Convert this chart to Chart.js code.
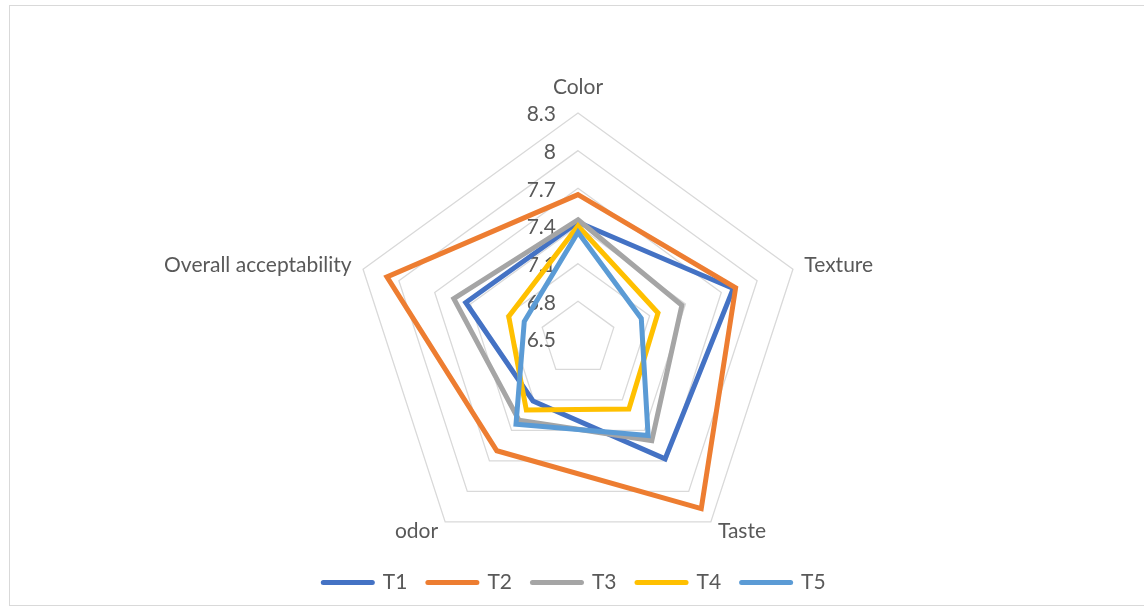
<!DOCTYPE html>
<html>
<head>
<meta charset="utf-8">
<script src="https://cdn.jsdelivr.net/npm/chart.js@4.4.1/dist/chart.umd.min.js"></script>
<style>
  html, body { margin: 0; padding: 0; background: #ffffff; }
  #wrap { position: relative; width: 1144px; height: 610px; overflow: hidden; }
  #wrap canvas { position: absolute; left: 0; top: 0; }
  #frame { position: absolute; left: 9px; top: 5px; width: 1140px; height: 601px;
           border: 1px solid #d9d9d9; box-sizing: border-box; pointer-events: none; }
</style>
</head>
<body>
<div id="wrap">
  <canvas id="chart" width="1144" height="610"></canvas>
  <div id="frame"></div>
</div>
<script>
// Sensory scores per attribute
const categories = ['Color', 'Texture', 'Taste', 'odor', 'Overall acceptability'];
const seriesNames = ['T1', 'T2', 'T3', 'T4', 'T5'];
const T1 = [7.43, 7.80, 7.68, 7.11, 7.44];
const T2 = [7.65, 7.82, 8.17, 7.60, 8.10];
const T3 = [7.45, 7.37, 7.50, 7.30, 7.54];
const T4 = [7.40, 7.17, 7.19, 7.20, 7.08];
const T5 = [7.35, 7.03, 7.45, 7.34, 6.95];
const tickValues = [6.5, 6.8, 7.1, 7.4, 7.7, 8.0, 8.3];
const tickLabels = ['6.5', '6.8', '7.1', '7.4', '7.7', '8', '8.3'];

const seriesValues = [T1, T2, T3, T4, T5];
const seriesColors = ['#4472C4', '#ED7D31', '#A5A5A5', '#FFC000', '#5B9BD5'];

const FONT = 'Lato, "Open Sans", sans-serif';
const FONT_SIZE = 21;
const TEXT_COLOR = '#595959';
const GRID_COLOR = '#d9d9d9';
const LINE_WIDTH = 5;

// Plot geometry of the radial scale
const CENTER_X = 578;
const CENTER_Y = 339;
const RADIUS = 226;

// Axis value labels sit left of the vertical axis; category labels outside each vertex
const radarText = {
  id: 'radarText',
  beforeDatasetsDraw(chart) {
    const s = chart.scales.r;
    const ctx = chart.ctx;
    ctx.save();
    ctx.font = FONT_SIZE + 'px ' + FONT;
    ctx.fillStyle = TEXT_COLOR;
    ctx.textBaseline = 'middle';
    ctx.textAlign = 'right';
    tickValues.forEach((v, i) => {
      const y = s.yCenter - s.getDistanceFromCenterForValue(v);
      ctx.fillText(tickLabels[i], s.xCenter - 22, y + 1.5);
    });
    categories.forEach((name, i) => {
      const p = s.getPointPosition(i, s.drawingArea + 12);
      const dx = p.x - s.xCenter;
      let y = p.y;
      if (Math.abs(dx) < 1) {
        ctx.textAlign = 'center';
        y -= 14;
      } else {
        ctx.textAlign = dx > 0 ? 'left' : 'right';
      }
      ctx.fillText(name, p.x, y);
    });
    ctx.restore();
  }
};

const datasets = seriesNames.map((name, i) => ({
  label: name,
  data: seriesValues[i],
  borderColor: seriesColors[i],
  backgroundColor: seriesColors[i],
  borderWidth: LINE_WIDTH,
  borderJoinStyle: 'miter',
  pointRadius: 0,
  pointHoverRadius: 0,
  pointBorderWidth: LINE_WIDTH,
  pointBorderColor: seriesColors[i],
  pointBackgroundColor: seriesColors[i],
  fill: false,
  tension: 0,
  clip: false,
  order: seriesNames.length - i
}));

new Chart(document.getElementById('chart'), {
  type: 'radar',
  data: { labels: categories, datasets },
  plugins: [radarText],
  options: {
    responsive: false,
    devicePixelRatio: 1,
    animation: false,
    layout: { padding: { top: 0, left: 5, right: 0, bottom: 7 } },
    scales: {
      r: {
        min: 6.5,
        max: 8.3,
        ticks: { display: false, stepSize: 0.3 },
        afterBuildTicks(scale) {
          scale.ticks = tickValues.map(v => ({ value: v }));
        },
        afterFit(scale) {
          scale.xCenter = CENTER_X;
          scale.yCenter = CENTER_Y;
          scale.drawingArea = RADIUS;
        },
        grid: { color: GRID_COLOR, lineWidth: 1.3, circular: false },
        angleLines: { display: false },
        pointLabels: { display: false }
      }
    },
    plugins: {
      tooltip: { enabled: false },
      legend: {
        position: 'bottom',
        labels: {
          usePointStyle: true,
          pointStyle: 'line',
          pointStyleWidth: 49,
          padding: 20.5,
          color: TEXT_COLOR,
          font: { family: FONT, size: FONT_SIZE },
          sort: (a, b) => a.datasetIndex - b.datasetIndex,
          generateLabels(chart) {
            return Chart.defaults.plugins.legend.labels.generateLabels(chart).map(item =>
              Object.assign(item, {
                lineWidth: LINE_WIDTH,
                lineCap: 'round',
                strokeStyle: seriesColors[item.datasetIndex]
              }));
          }
        }
      }
    }
  }
});
</script>
</body>
</html>
